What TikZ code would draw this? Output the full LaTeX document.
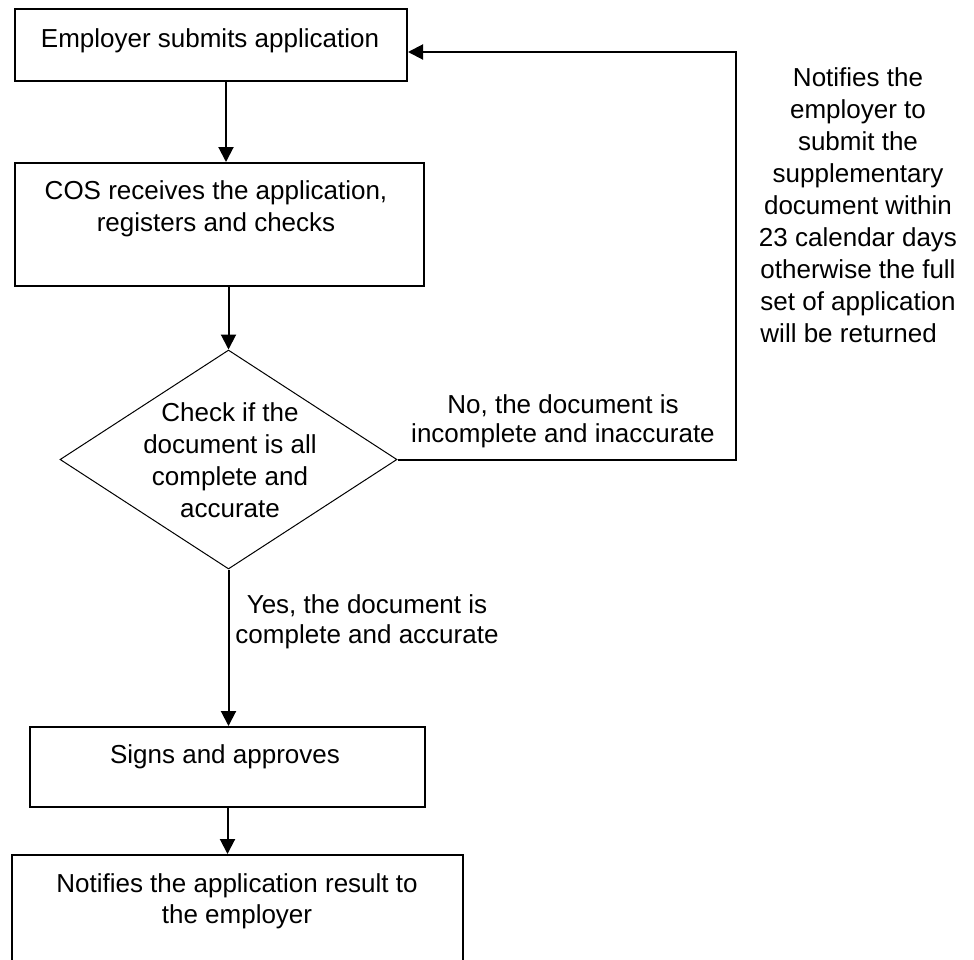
\documentclass[tikz,border=0pt]{standalone}
\usepackage{fontspec}
\usepackage{calc}
\setmainfont{Liberation Sans}
\usetikzlibrary{arrows.meta,shapes.geometric}
\begin{document}
\begin{tikzpicture}[x=1pt,y=-1pt,
  font=\fontsize{26}{31.5}\selectfont,
  boxshape/.style={draw=black, line width=2pt, rectangle, inner sep=0pt},
  txt/.style={inner sep=0pt, align=center, anchor=base},
  arr/.style={draw=black, line width=2pt, -{Triangle[width=15pt,length=15pt]}}]
\clip (0,0) rectangle (974,959);
\fill[white] (0,0) rectangle (974,959);

% boxes
\node[boxshape, minimum width=392pt, minimum height=72pt] (b1) at (211,45) {};
\node[boxshape, minimum width=409pt, minimum height=123pt] (b2) at (219.5,224.5) {};
\node[draw=black, line width=1pt, diamond, inner sep=0pt, minimum width=337pt, minimum height=219pt] (dia) at (228.5,459.5) {};
\node[boxshape, minimum width=395pt, minimum height=80pt] (b3) at (227.5,767) {};
\node[boxshape, minimum width=451pt, minimum height=160pt] (b4) at (237.5,935) {};

% texts (anchor = baseline of last line)
\node[txt] (t1) at (210,47) {Employer submits application};
\node[txt] (t2) at (216,231) {COS receives the application,\\registers and checks};
\node[txt, font=\fontsize{26}{31.7}\selectfont] (t3) at (230,517) {Check if the\\document is all\\complete and\\accurate};
\node[txt, font=\fontsize{26}{29}\selectfont] (tno) at (563,442) {No, the document is\\incomplete and inaccurate};
\node[txt, font=\fontsize{26}{30}\selectfont] (tyes) at (367,643) {Yes, the document is\\complete and accurate};
\node[txt] (t4) at (225,763) {Signs and approves};
\node[txt, font=\fontsize{26}{31}\selectfont] (t5) at (237,923) {Notifies the application result to\\the employer};
\node[txt, font=\fontsize{26}{31.9}\selectfont] (note) at (858,342) {Notifies the\\employer to\\submit the\\supplementary\\document within\\23 calendar days\\otherwise the full\\set of application\\\makebox[\widthof{otherwise the full}][l]{will be returned}};

% connectors
\coordinate (c1) at (736,52);
\draw[arr] ([xshift=15pt]b1.south) -- ([xshift=6.5pt]b2.north);
\draw[arr] (dia.north |- b2.south) -- (dia.north);
\draw[arr] (dia.south) -- (dia.south |- b3.north);
\draw[arr] (b3.south) -- (b3.south |- b4.north);
\draw[arr] (dia.east) -| (c1) -- (b1.east |- c1);
\end{tikzpicture}
\end{document}
